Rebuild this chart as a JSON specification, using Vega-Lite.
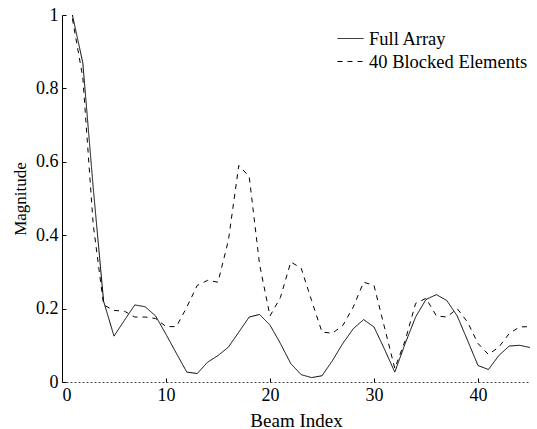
{
  "$schema": "https://vega.github.io/schema/vega-lite/v6.json",
  "width": 468,
  "height": 367,
  "autosize": "none",
  "padding": {"left": 62, "top": 15, "right": 7, "bottom": 47},
  "background": "white",
  "config": {
    "font": "Liberation Serif",
    "view": {"stroke": null},
    "axis": {
      "labelFont": "Liberation Serif",
      "titleFont": "Liberation Serif",
      "labelFontSize": 18,
      "titleFontSize": 16,
      "titleFontWeight": "normal",
      "labelColor": "black",
      "titleColor": "black",
      "domainColor": "black",
      "tickColor": "black",
      "tickSize": -4,
      "labelPadding": 8,
      "grid": false
    },
    "legend": {
      "labelFont": "Liberation Serif",
      "labelFontSize": 18.5,
      "labelColor": "black"
    }
  },
  "data": {
    "values": [
      {"beam": 1, "series": "Full Array", "mag": 1.0},
      {"beam": 2, "series": "Full Array", "mag": 0.87},
      {"beam": 3, "series": "Full Array", "mag": 0.53},
      {"beam": 4, "series": "Full Array", "mag": 0.22},
      {"beam": 5, "series": "Full Array", "mag": 0.125},
      {"beam": 6, "series": "Full Array", "mag": 0.168},
      {"beam": 7, "series": "Full Array", "mag": 0.21},
      {"beam": 8, "series": "Full Array", "mag": 0.205},
      {"beam": 9, "series": "Full Array", "mag": 0.18},
      {"beam": 10, "series": "Full Array", "mag": 0.13},
      {"beam": 11, "series": "Full Array", "mag": 0.078},
      {"beam": 12, "series": "Full Array", "mag": 0.027},
      {"beam": 13, "series": "Full Array", "mag": 0.023},
      {"beam": 14, "series": "Full Array", "mag": 0.054},
      {"beam": 15, "series": "Full Array", "mag": 0.072},
      {"beam": 16, "series": "Full Array", "mag": 0.095},
      {"beam": 17, "series": "Full Array", "mag": 0.136},
      {"beam": 18, "series": "Full Array", "mag": 0.177},
      {"beam": 19, "series": "Full Array", "mag": 0.184},
      {"beam": 20, "series": "Full Array", "mag": 0.155},
      {"beam": 21, "series": "Full Array", "mag": 0.105},
      {"beam": 22, "series": "Full Array", "mag": 0.05},
      {"beam": 23, "series": "Full Array", "mag": 0.02},
      {"beam": 24, "series": "Full Array", "mag": 0.012},
      {"beam": 25, "series": "Full Array", "mag": 0.017},
      {"beam": 26, "series": "Full Array", "mag": 0.058},
      {"beam": 27, "series": "Full Array", "mag": 0.105},
      {"beam": 28, "series": "Full Array", "mag": 0.145},
      {"beam": 29, "series": "Full Array", "mag": 0.17},
      {"beam": 30, "series": "Full Array", "mag": 0.15},
      {"beam": 31, "series": "Full Array", "mag": 0.09},
      {"beam": 32, "series": "Full Array", "mag": 0.027},
      {"beam": 33, "series": "Full Array", "mag": 0.105},
      {"beam": 34, "series": "Full Array", "mag": 0.177},
      {"beam": 35, "series": "Full Array", "mag": 0.225},
      {"beam": 36, "series": "Full Array", "mag": 0.238},
      {"beam": 37, "series": "Full Array", "mag": 0.222},
      {"beam": 38, "series": "Full Array", "mag": 0.18},
      {"beam": 39, "series": "Full Array", "mag": 0.113},
      {"beam": 40, "series": "Full Array", "mag": 0.045},
      {"beam": 41, "series": "Full Array", "mag": 0.034},
      {"beam": 42, "series": "Full Array", "mag": 0.072},
      {"beam": 43, "series": "Full Array", "mag": 0.098},
      {"beam": 44, "series": "Full Array", "mag": 0.1},
      {"beam": 45, "series": "Full Array", "mag": 0.094},
      {"beam": 1, "series": "40 Blocked Elements", "mag": 0.99},
      {"beam": 2, "series": "40 Blocked Elements", "mag": 0.83},
      {"beam": 3, "series": "40 Blocked Elements", "mag": 0.43},
      {"beam": 4, "series": "40 Blocked Elements", "mag": 0.21},
      {"beam": 5, "series": "40 Blocked Elements", "mag": 0.195},
      {"beam": 6, "series": "40 Blocked Elements", "mag": 0.193},
      {"beam": 7, "series": "40 Blocked Elements", "mag": 0.177},
      {"beam": 8, "series": "40 Blocked Elements", "mag": 0.177},
      {"beam": 9, "series": "40 Blocked Elements", "mag": 0.173},
      {"beam": 10, "series": "40 Blocked Elements", "mag": 0.151},
      {"beam": 11, "series": "40 Blocked Elements", "mag": 0.151},
      {"beam": 12, "series": "40 Blocked Elements", "mag": 0.204},
      {"beam": 13, "series": "40 Blocked Elements", "mag": 0.263},
      {"beam": 14, "series": "40 Blocked Elements", "mag": 0.277},
      {"beam": 15, "series": "40 Blocked Elements", "mag": 0.272},
      {"beam": 16, "series": "40 Blocked Elements", "mag": 0.386},
      {"beam": 17, "series": "40 Blocked Elements", "mag": 0.59},
      {"beam": 18, "series": "40 Blocked Elements", "mag": 0.56},
      {"beam": 19, "series": "40 Blocked Elements", "mag": 0.32},
      {"beam": 20, "series": "40 Blocked Elements", "mag": 0.18},
      {"beam": 21, "series": "40 Blocked Elements", "mag": 0.23},
      {"beam": 22, "series": "40 Blocked Elements", "mag": 0.327},
      {"beam": 23, "series": "40 Blocked Elements", "mag": 0.31},
      {"beam": 24, "series": "40 Blocked Elements", "mag": 0.222},
      {"beam": 25, "series": "40 Blocked Elements", "mag": 0.136},
      {"beam": 26, "series": "40 Blocked Elements", "mag": 0.133},
      {"beam": 27, "series": "40 Blocked Elements", "mag": 0.154},
      {"beam": 28, "series": "40 Blocked Elements", "mag": 0.204},
      {"beam": 29, "series": "40 Blocked Elements", "mag": 0.272},
      {"beam": 30, "series": "40 Blocked Elements", "mag": 0.263},
      {"beam": 31, "series": "40 Blocked Elements", "mag": 0.15},
      {"beam": 32, "series": "40 Blocked Elements", "mag": 0.037},
      {"beam": 33, "series": "40 Blocked Elements", "mag": 0.113},
      {"beam": 34, "series": "40 Blocked Elements", "mag": 0.214},
      {"beam": 35, "series": "40 Blocked Elements", "mag": 0.228},
      {"beam": 36, "series": "40 Blocked Elements", "mag": 0.18},
      {"beam": 37, "series": "40 Blocked Elements", "mag": 0.177},
      {"beam": 38, "series": "40 Blocked Elements", "mag": 0.2},
      {"beam": 39, "series": "40 Blocked Elements", "mag": 0.163},
      {"beam": 40, "series": "40 Blocked Elements", "mag": 0.105},
      {"beam": 41, "series": "40 Blocked Elements", "mag": 0.075},
      {"beam": 42, "series": "40 Blocked Elements", "mag": 0.095},
      {"beam": 43, "series": "40 Blocked Elements", "mag": 0.132},
      {"beam": 44, "series": "40 Blocked Elements", "mag": 0.15},
      {"beam": 45, "series": "40 Blocked Elements", "mag": 0.151}
    ]
  },
  "mark": {"type": "line", "strokeWidth": 1, "color": "black"},
  "encoding": {
    "x": {
      "field": "beam",
      "type": "quantitative",
      "scale": {"domain": [0, 45], "nice": false},
      "axis": {"values": [0, 10, 20, 30, 40], "title": "Beam Index", "titleFontSize": 19, "titlePadding": 7, "domainDash": [2, 2], "domainColor": "#444"}
    },
    "y": {
      "field": "mag",
      "type": "quantitative",
      "scale": {"domain": [0, 1], "nice": false},
      "axis": {"values": [0, 0.2, 0.4, 0.6, 0.8, 1], "format": "~g", "title": "Magnitude", "titleFontSize": 17, "titlePadding": 6}
    },
    "strokeDash": {
      "field": "series",
      "type": "nominal",
      "scale": {"domain": ["Full Array", "40 Blocked Elements"], "range": [[1, 0], [5, 5]]},
      "legend": {
        "title": null,
        "orient": "none",
        "legendX": 275,
        "legendY": 10,
        "symbolType": "stroke",
        "symbolSize": 676,
        "symbolStrokeWidth": 1,
        "symbolStrokeColor": "black",
        "labelOffset": 5,
        "rowPadding": 0,
        "encode": {
          "symbols": {
            "update": {
              "strokeDash": [
                {"test": "datum.value === 'Full Array'", "value": [1, 0]},
                {"value": [6, 5]}
              ]
            }
          }
        }
      }
    }
  }
}
